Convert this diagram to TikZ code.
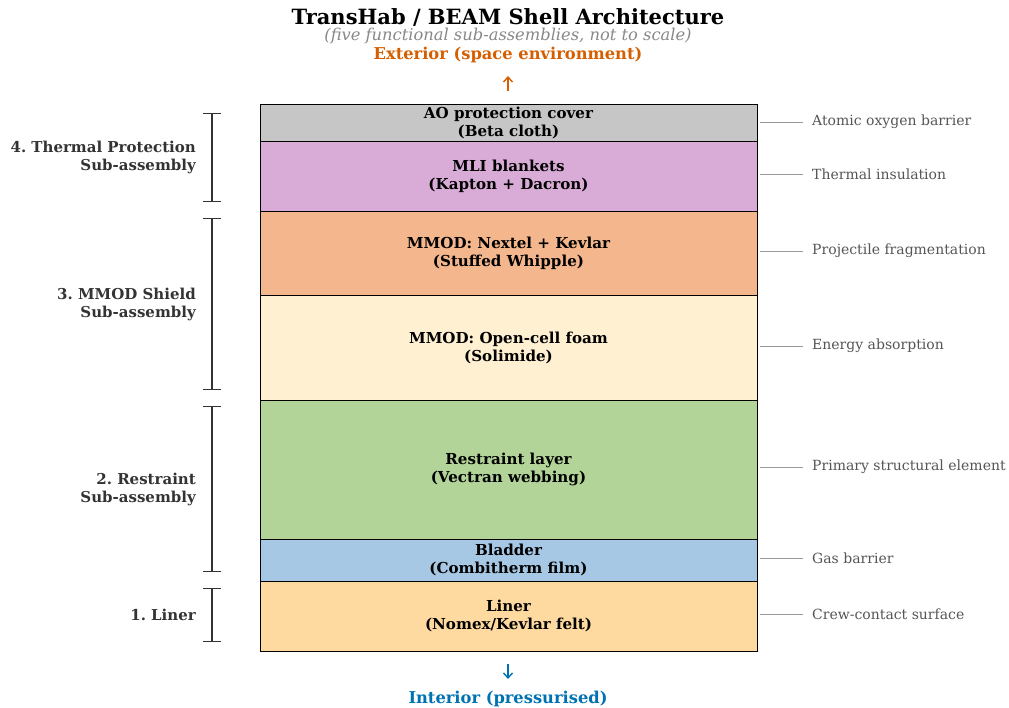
\documentclass[tikz,border=0pt]{standalone}
\usepackage{fontspec}
\setmainfont{DejaVu Serif}
\usetikzlibrary{arrows.meta}
\frenchspacing
\definecolor{cAO}{HTML}{C6C6C6}
\definecolor{cMLI}{HTML}{D9ACD7}
\definecolor{cNex}{HTML}{F4B68C}
\definecolor{cFoam}{HTML}{FEF0D0}
\definecolor{cRes}{HTML}{B2D498}
\definecolor{cBla}{HTML}{A6C8E5}
\definecolor{cLin}{HTML}{FED9A0}
\definecolor{cExt}{HTML}{D55E00}
\definecolor{cInt}{HTML}{0072B2}
\definecolor{cDark}{HTML}{333333}
\definecolor{cMid}{HTML}{555555}
\definecolor{cLine}{HTML}{999999}
\definecolor{cSub}{HTML}{888888}
\tikzset{
  layer/.style={draw=black, line width=0.8pt, minimum width=497pt, inner sep=0pt, align=center,
    font=\fontsize{15.1}{18}\selectfont\bfseries},
  annot/.style={draw=cLine, line width=0.9pt},
  annlab/.style={anchor=west, inner xsep=0pt, text=cMid, font=\fontsize{14}{16}\selectfont},
  brk/.style={draw=cDark, line width=1.4pt, {Bar[width=18pt,line width=1.4pt]}-{Bar[width=18pt,line width=1.4pt]}},
  grplab/.style={anchor=east, inner xsep=0pt, align=right, text=cDark, font=\fontsize{15}{18}\selectfont\bfseries},
  dirarrow/.style={line width=1.4pt, -{Straight Barb[length=5pt,width=9pt]}}
}
\begin{document}
\begin{tikzpicture}[x=1pt,y=-1pt]
\useasboundingbox (0,0) rectangle (1009,708);
% title
\node (title) at (508,17.5) {\fontsize{21}{24}\selectfont\bfseries TransHab / BEAM Shell Architecture};
\node[text=cSub] (sub) at (508,36.5) {\fontsize{16.3}{18}\selectfont\itshape (five functional sub-assemblies, not to scale)};
\node[text=cExt] (ext) at (508,55.5) {\fontsize{16.3}{18}\selectfont\bfseries Exterior (space environment)};
% layers
\node[layer, fill=cAO, minimum height=37pt] (ao) at (508.5,122.5) {AO protection cover\\(Beta cloth)};
\node[layer, fill=cMLI, minimum height=70pt] (mli) at (508.5,176) {MLI blankets\\(Kapton + Dacron)};
\node[layer, fill=cNex, minimum height=84pt] (nex) at (508.5,253) {MMOD: Nextel + Kevlar\\(Stuffed Whipple)};
\node[layer, fill=cFoam, minimum height=105pt] (foam) at (508.5,347.5) {MMOD: Open-cell foam\\(Solimide)};
\node[layer, fill=cRes, minimum height=139pt] (res) at (508.5,469.5) {Restraint layer\\(Vectran webbing)};
\node[layer, fill=cBla, minimum height=42pt] (bla) at (508.5,560) {Bladder\\(Combitherm film)};
\node[layer, fill=cLin, minimum height=70pt] (lin) at (508.5,616) {Liner\\(Nomex/Kevlar felt)};
% direction arrows
\coordinate (ea) at (508,91);
\coordinate (eb) at (508,76);
\draw[dirarrow, cExt] (ea) -- (eb);
\coordinate (ia) at (508,664);
\coordinate (ib) at (508,679);
\draw[dirarrow, cInt] (ia) -- (ib);
\node[text=cInt] (int) at (508,699) {\fontsize{16.3}{18}\selectfont\bfseries Interior (pressurised)};
% annotations right
\foreach \n/\y/\t in {1/122/Atomic oxygen barrier, 2/174/Thermal insulation, 3/251/Projectile fragmentation,
  4/346/Energy absorption, 5/467/Primary structural element, 6/558/Gas barrier, 7/614/Crew-contact surface}{
  \coordinate (a\n) at (760,\y);
  \node[annlab] (l\n) at (812,\y) {\t};
  \draw[annot] (a\n) -- ([xshift=-9pt]l\n.west);
}
% brackets
\coordinate (b4t) at (212,113); \coordinate (b4b) at (212,202);
\coordinate (b3t) at (212,218); \coordinate (b3b) at (212,390);
\coordinate (b2t) at (212,406); \coordinate (b2b) at (212,572);
\coordinate (b1t) at (212,588); \coordinate (b1b) at (212,642);
\draw[brk] (b4t) -- (b4b);
\draw[brk] (b3t) -- (b3b);
\draw[brk] (b2t) -- (b2b);
\draw[brk] (b1t) -- (b1b);
\node[grplab] (g4) at (196,157) {4. Thermal Protection\\Sub-assembly};
\node[grplab] (g3) at (196,304) {3. MMOD Shield\\Sub-assembly};
\node[grplab] (g2) at (196,489) {2. Restraint\\Sub-assembly};
\node[grplab] (g1) at (196,615) {1. Liner};
\end{tikzpicture}
\end{document}
